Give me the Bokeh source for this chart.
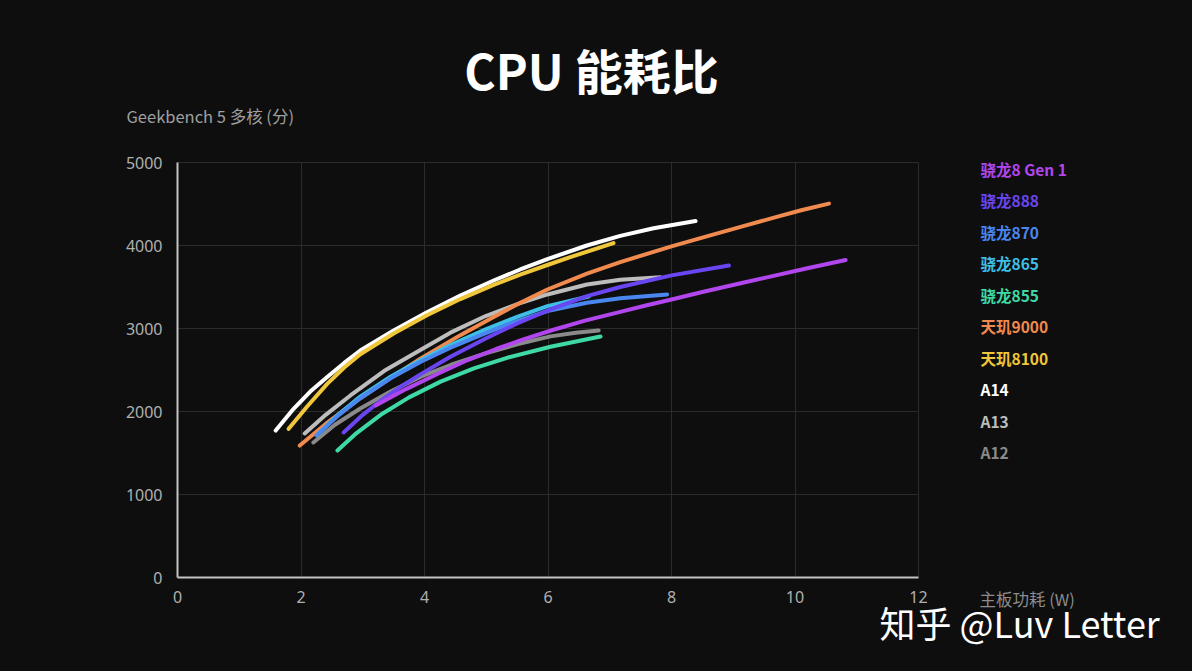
from bokeh.plotting import figure
from bokeh.models import Label, Range1d, FixedTicker, LinearAxis, Grid
from bokeh.embed import file_html
from bokeh.resources import INLINE

# ---- data ----
names = ["骁龙8 Gen 1", "骁龙888", "骁龙870", "骁龙865", "骁龙855",
         "天玑9000", "天玑8100", "A14", "A13", "A12"]
colors = ["#b146ee", "#6a46f2", "#4a86f0", "#3fbfe6", "#3ed9a6",
          "#f08a4e", "#f0c63a", "#ffffff", "#bdbdbd", "#8a8a8a"]

sd8g1_w = [3.21, 3.7, 4.26, 4.7, 5.15, 5.6, 6.09, 6.6, 7.17, 7.6, 8.0, 8.5, 9.12, 9.6, 10.2, 10.82]
sd8g1_s = [2072, 2270, 2470, 2620, 2750, 2870, 2985, 3095, 3200, 3280, 3350, 3440, 3545, 3625, 3725, 3825]
sd888_w = [2.69, 3.0, 3.29, 3.64, 3.94, 4.42, 4.99, 5.5, 6.04, 6.63, 7.17, 8.0, 8.93]
sd888_s = [1747, 1960, 2130, 2310, 2450, 2660, 2880, 3060, 3230, 3390, 3500, 3640, 3759]
sd870_w = [2.25, 2.6, 2.96, 3.45, 3.94, 4.42, 4.99, 5.5, 5.99, 6.63, 7.17, 7.93]
sd870_s = [1711, 1950, 2160, 2400, 2600, 2770, 2945, 3090, 3210, 3310, 3365, 3410]
sd865_w = [2.28, 2.6, 2.96, 3.45, 3.94, 4.42, 4.99, 5.5, 5.99, 6.66]
sd865_s = [1735, 1960, 2180, 2420, 2620, 2800, 2990, 3140, 3270, 3386]
sd855_w = [2.59, 2.9, 3.29, 3.75, 4.26, 4.8, 5.35, 6.04, 6.85]
sd855_s = [1530, 1740, 1960, 2170, 2360, 2520, 2650, 2780, 2904]
d9000_w = [1.98, 2.40, 2.96, 3.50, 3.94, 4.58, 5.12, 5.55, 5.99, 6.63, 7.17, 8.0, 8.57, 9.12, 9.66, 10.1, 10.55]
d9000_s = [1590, 1850, 2160, 2430, 2640, 2920, 3140, 3310, 3470, 3660, 3800, 3990, 4110, 4225, 4335, 4425, 4505]
d8100_w = [1.80, 2.10, 2.42, 2.70, 2.96, 3.50, 4.04, 4.58, 5.12, 5.55, 5.99, 6.36, 7.06]
d8100_s = [1791, 2060, 2330, 2530, 2690, 2940, 3160, 3355, 3525, 3650, 3765, 3860, 4028]
a14_w = [1.59, 1.88, 2.15, 2.42, 2.70, 2.96, 3.50, 4.04, 4.58, 5.12, 5.55, 5.99, 6.63, 7.17, 7.71, 8.39]
a14_s = [1771, 2032, 2240, 2413, 2585, 2735, 2976, 3196, 3397, 3578, 3711, 3836, 4000, 4116, 4208, 4295]
a13_w = [2.06, 2.40, 2.80, 3.35, 3.94, 4.42, 4.99, 5.55, 5.99, 6.63, 7.17, 7.82]
a13_s = [1735, 1960, 2193, 2490, 2745, 2950, 3150, 3305, 3410, 3530, 3588, 3618]
a12_w = [2.20, 2.55, 2.96, 3.45, 3.94, 4.42, 4.99, 5.50, 6.04, 6.45, 6.82]
a12_s = [1627, 1840, 2036, 2240, 2420, 2560, 2700, 2810, 2905, 2950, 2976]

series_w = [sd8g1_w, sd888_w, sd870_w, sd865_w, sd855_w, d9000_w, d8100_w, a14_w, a13_w, a12_w]
series_s = [sd8g1_s, sd888_s, sd870_s, sd865_s, sd855_s, d9000_s, d8100_s, a14_s, a13_s, a12_s]

x_ticks = [0, 2, 4, 6, 8, 10, 12]
y_ticks = [0, 1000, 2000, 3000, 4000, 5000]

title_text = "CPU 能耗比"
y_title = "Geekbench 5 多核 (分)"
x_title = "主板功耗 (W)"
watermark = "知乎 @Luv Letter"

BG = "#0e0e0e"
CJK = "Noto Sans CJK SC"

# ---- layout: the plot area (0..12 W, 0..5000) sits at canvas px 177..918 x 162..577 ----
W, H = 1192, 671
L, R, T, B = 177, 918, 162, 577
XMAX, YMAX = 12, 5000
xpp = XMAX / (R - L)          # data units per pixel
ypp = YMAX / (B - T)

p = figure(width=W, height=H, output_backend="svg", toolbar_location=None,
           x_range=Range1d(-L * xpp, XMAX + (W - R) * xpp),
           y_range=Range1d(-(H - B) * ypp, YMAX + T * ypp),
           x_axis_type=None, y_axis_type=None,
           min_border=0, min_border_left=0, min_border_right=0,
           min_border_top=0, min_border_bottom=0)
p.background_fill_color = BG
p.border_fill_color = BG
p.outline_line_color = None

xaxis = LinearAxis(fixed_location=0, bounds=(0, XMAX), ticker=FixedTicker(ticks=x_ticks))
yaxis = LinearAxis(fixed_location=0, bounds=(0, YMAX), ticker=FixedTicker(ticks=y_ticks))
for ax in (xaxis, yaxis):
    ax.axis_line_color = "#c4c4c4"
    ax.axis_line_width = 2
    ax.major_tick_line_color = None
    ax.minor_tick_line_color = None
    ax.major_tick_out = 0
    ax.major_tick_in = 0
    ax.major_label_standoff = 15
    ax.major_label_text_color = "#b0b0b0"
    ax.major_label_text_font = "Noto Sans"
    ax.major_label_text_font_size = "16px"
xaxis.major_label_standoff = 13

xgrid = Grid(dimension=0, ticker=FixedTicker(ticks=x_ticks), cross_bounds=(0, YMAX))
ygrid = Grid(dimension=1, ticker=FixedTicker(ticks=y_ticks), cross_bounds=(0, XMAX))
for g in (xgrid, ygrid):
    g.grid_line_color = "#2b2b2b"
    g.grid_line_width = 1
    p.add_layout(g)

# draw curves (A12 first so the coloured ones sit above)
for i in reversed(range(len(names))):
    p.line(series_w[i], series_s[i], line_color=colors[i], line_width=4,
           line_cap="round", line_join="round")

p.add_layout(xaxis, "below")
p.add_layout(yaxis, "left")

# texts, positioned by canvas pixel (converted to the plot's units)
def lab(px, py, text, color, size, bold=False, align="left"):
    p.add_layout(Label(x=(px - L) * xpp, y=(B - py) * ypp, text=text,
                       text_color=color, text_font=CJK,
                       text_font_style="bold" if bold else "normal",
                       text_font_size=size, text_align=align, text_baseline="middle"))

lab(591, 68, title_text, "#ffffff", "48px", bold=True, align="center")
lab(126, 115, y_title, "#a0a0a0", "16.5px")
lab(979, 598, x_title, "#8c8c8c", "16.5px")
lab(879, 621, watermark, "#ffffff", "36px")
for i, nm in enumerate(names):
    lab(980, 168 + i * 31.5, nm, colors[i], "15.5px", bold=True)

html = file_html(p, INLINE)
html = html.replace("<head>", "<head><style>html,body{background:#0e0e0e;}</style>", 1)
open("out.html", "w").write(html)
